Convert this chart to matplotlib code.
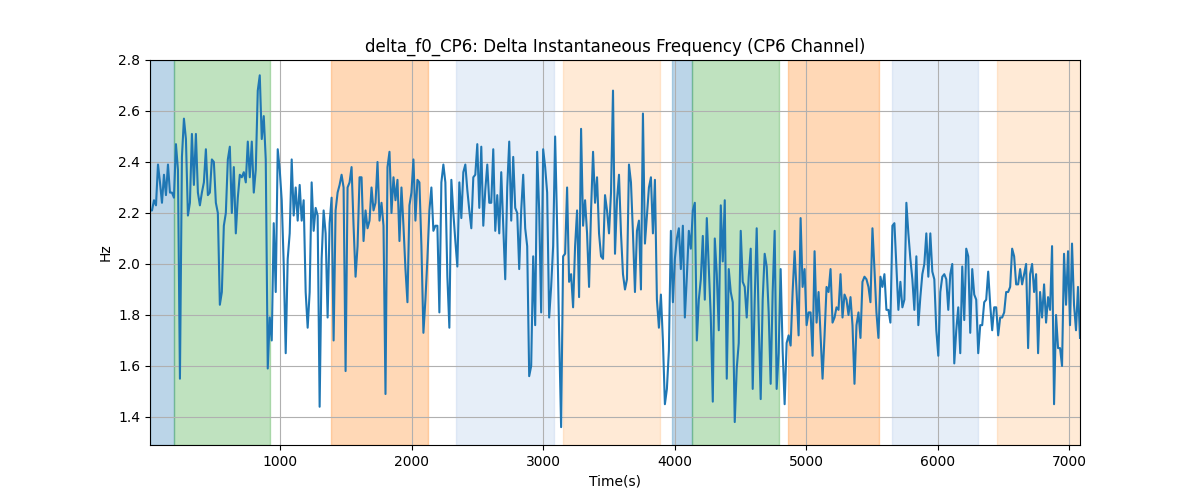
import numpy as np
import matplotlib
matplotlib.use("Agg")
import matplotlib.pyplot as plt

t_start = 12
t_end = 7081

values = [
    # segment 1
    2.21,2.21,2.25,2.23,2.39,2.32,2.24,2.35,2.27,2.39,2.28,2.28,2.26,2.47,2.37,1.55,2.42,2.57,2.49,2.19,2.24,2.51,2.31,2.51,2.28,2.23,2.28,2.32,2.45,2.27,2.28,2.41,2.40,2.24,2.20,1.84,1.89,2.15,2.20,2.41,2.46,2.20,2.38,2.12,2.26,2.35,2.34,2.36,2.32,2.48,2.34,2.48,2.28,2.37,2.68,2.74,2.49,2.58,2.41,1.59,1.79,1.70,2.16,1.89,
    # segment 2
    2.45,2.37,2.25,2.00,1.65,2.02,2.12,2.41,2.19,2.30,2.17,2.31,2.17,2.25,1.89,1.75,1.89,2.32,2.13,2.22,2.19,1.44,2.02,2.21,2.12,1.79,2.16,2.26,1.70,2.21,2.28,2.31,2.35,2.30,1.58,2.30,2.32,2.38,2.15,1.95,2.07,2.34,2.34,2.09,2.21,2.14,2.17,2.30,2.21,2.24,2.40,2.17,2.24,2.15,1.49,2.38,2.44,2.20,2.34,2.25,2.33,2.09,2.30,2.15,1.98,1.85,
    # segment 3
    2.23,2.28,2.41,2.17,2.33,2.32,2.07,1.73,1.86,2.02,2.21,2.30,2.13,2.15,2.15,1.81,2.32,2.39,2.32,1.95,1.75,2.33,2.20,2.09,1.99,2.32,2.18,2.36,2.39,2.29,2.21,2.14,2.34,2.35,2.47,2.22,2.46,2.15,2.29,2.39,2.24,2.24,2.45,2.13,2.27,2.12,2.36,2.15,1.94,2.30,2.48,2.17,2.42,2.22,2.20,1.98,2.21,2.35,2.14,2.07,1.56,1.60,2.03,1.76,2.44,2.21,1.81,
    # segment 4
    2.45,2.38,2.28,1.79,1.91,2.07,2.50,2.15,1.73,1.36,2.03,2.04,2.30,1.93,1.96,1.83,2.07,2.21,1.87,2.53,2.15,2.25,2.12,1.91,2.21,2.44,2.24,2.34,2.12,2.03,2.02,2.27,2.21,2.12,2.28,2.68,2.04,2.25,2.35,2.12,1.96,1.90,1.94,2.39,2.32,2.12,1.89,2.13,2.17,1.90,2.59,2.08,2.19,2.30,2.34,2.12,2.33,1.86,1.75,1.88,1.70,1.45,1.51,1.66,2.13,
    # segment 5
    1.85,2.02,2.10,2.14,1.98,2.15,1.79,1.95,2.13,2.06,2.21,2.24,1.70,1.86,1.94,2.11,1.86,2.18,1.99,1.79,1.46,2.10,1.96,1.74,2.23,2.01,2.25,1.55,1.98,1.89,1.85,1.38,1.59,1.69,2.13,1.93,1.91,1.79,1.95,2.06,1.51,1.86,2.14,1.78,1.47,1.86,2.04,1.99,1.81,1.53,1.89,2.13,1.51,1.65,1.98,1.66,1.45,1.69,1.72,1.68,1.89,2.05,1.89,1.72,2.18,1.91,
    # segment 6
    1.98,1.76,1.81,1.81,1.64,2.05,1.77,1.89,1.72,1.55,1.72,1.91,1.89,1.98,1.77,1.79,1.83,1.82,1.96,1.79,1.88,1.86,1.80,1.87,1.76,1.53,1.76,1.81,1.71,1.93,1.95,1.94,1.91,1.85,2.14,1.98,1.81,1.71,1.95,1.91,1.96,1.82,1.82,1.77,2.15,2.16,1.99,1.82,1.93,1.83,1.86,2.24,2.12,2.02,1.94,1.82,2.03,1.76,1.87,1.96,2.00,2.12,1.95,2.12,1.97,1.94,1.74,
    # segment 7
    1.64,1.89,1.95,1.96,1.94,1.82,1.96,2.00,1.61,1.74,1.83,1.65,1.99,1.78,2.06,2.03,1.73,1.98,1.88,1.86,1.65,1.76,1.76,1.85,1.86,1.97,1.84,1.74,1.83,1.83,1.72,1.79,1.79,1.81,1.89,1.89,1.91,2.06,2.03,1.92,1.92,1.98,1.92,1.96,2.00,1.67,1.96,2.00,1.89,1.96,1.65,1.89,1.79,1.92,1.77,1.87,1.82,2.07,1.45,1.80,1.67,1.67,1.60,2.04,1.84,2.05,1.76,2.08,1.84,1.74,1.91,1.71,
]

span_starts = [12, 195, 1388, 2338, 3151, 3980, 4134, 4864, 5652, 6453]
span_ends = [195, 927, 2123, 3081, 3887, 4134, 4791, 5551, 6304, 7150]
span_colors = ["tab:blue", "tab:green", "tab:orange", "#aec7e8", "#ffbb78",
               "tab:blue", "tab:green", "tab:orange", "#aec7e8", "#ffbb78"]
span_alphas = [0.3, 0.3, 0.3, 0.3, 0.3, 0.3, 0.3, 0.3, 0.3, 0.3]

y = np.array(values)
t = np.linspace(t_start, t_end, len(y))

fig, ax = plt.subplots(figsize=(12, 5), dpi=100)
for s, e, c, a in zip(span_starts, span_ends, span_colors, span_alphas):
    ax.axvspan(s, e, color=c, alpha=a)
ax.plot(t, y, color="tab:blue", linewidth=1.5)
ax.set_xlim(t_start, t_end)
ax.set_ylim(1.29, 2.8)
ax.grid(True)
ax.set_title("delta_f0_CP6: Delta Instantaneous Frequency (CP6 Channel)")
ax.set_xlabel("Time(s)")
ax.set_ylabel("Hz")
fig.savefig("out.png", dpi=100)
